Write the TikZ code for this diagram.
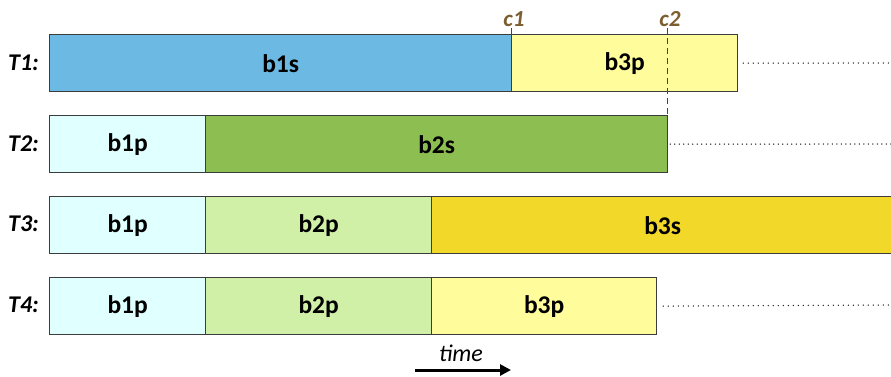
\documentclass[tikz,border=0pt]{standalone}
\usepackage{fontspec}
\setmainfont{Carlito}
\usetikzlibrary{arrows.meta}
\definecolor{bluefill}{RGB}{108,185,228}
\definecolor{paleyellow}{RGB}{255,253,155}
\definecolor{palecyan}{RGB}{224,255,255}
\definecolor{darkgreen}{RGB}{141,190,82}
\definecolor{palegreen}{RGB}{208,240,168}
\definecolor{gold}{RGB}{242,216,40}
\definecolor{brownlab}{RGB}{124,94,48}
\definecolor{edge}{RGB}{60,60,60}
\tikzset{
  blk/.style={draw=edge, line width=1.3pt, anchor=north west, minimum height=57pt,
    inner sep=0pt, font=\fontsize{25.5}{30}\selectfont\bfseries},
  rowlab/.style={anchor=east, inner sep=0pt, font=\fontsize{24}{28}\selectfont\bfseries\itshape},
  cklab/.style={inner sep=0pt, text=brownlab, font=\fontsize{23}{27}\selectfont\bfseries\itshape},
  cont/.style={line width=1.5pt, draw=black!85, line cap=round, dash pattern=on 0pt off 5pt},
}
\begin{document}
\begin{tikzpicture}[x=1pt,y=-1pt]
\useasboundingbox (0,0) rectangle (891,376);
% task rows
\node[rowlab] (l1) at (39,63) {T1:};
\node[rowlab] (l2) at (39,144) {T2:};
\node[rowlab] (l3) at (39,224) {T3:};
\node[rowlab] (l4) at (39,305) {T4:};
% T1
\node[blk, fill=bluefill, minimum width=462pt] (t1a) at (49,34) {b1s};
\node[blk, fill=paleyellow, minimum width=226pt] (t1b) at (511,34) {b3p};
% T2
\node[blk, fill=palecyan, minimum width=156pt] (t2a) at (49,115) {b1p};
\node[blk, fill=darkgreen, minimum width=462pt] (t2b) at (205,115) {b2s};
% T3
\node[blk, fill=palecyan, minimum width=156pt] (t3a) at (49,196) {b1p};
\node[blk, fill=palegreen, minimum width=226pt] (t3b) at (205,196) {b2p};
\node[blk, fill=gold, minimum width=462pt] (t3c) at (431,196) {b3s};
% T4
\node[blk, fill=palecyan, minimum width=156pt] (t4a) at (49,277) {b1p};
\node[blk, fill=palegreen, minimum width=226pt] (t4b) at (205,277) {b2p};
\node[blk, fill=paleyellow, minimum width=225pt] (t4c) at (431,277) {b3p};
% continuation lines
\coordinate (e1) at (891,63);
\coordinate (e2) at (891,144);
\coordinate (e4) at (891,305);
\draw[cont, shorten <=5pt] (t1b.east) -- (e1);
\draw[cont, shorten <=2pt, dash pattern=on 0pt off 4.5pt] (t2b.east) -- (e2);
\draw[cont, shorten <=6pt] (t4c.east) -- (e4);
% checkpoints
\node[cklab, anchor=base] (c1) at (514,26) {c1};
\node[cklab, anchor=base] (c2) at (670,26) {c2};
\coordinate (c1b) at (511,34);
\coordinate (c2b) at (667,115);
\draw[brownlab!70!black, line width=0.6pt] (511,28) -- (c1b);
\draw[brownlab!70!black, line width=0.6pt, dash pattern=on 6pt off 4pt] (667,28) -- (c2b);
% time arrow
\node[inner sep=0pt, anchor=base, font=\fontsize{24}{28}\selectfont\itshape] (tm) at (461,361) {time};
\coordinate (ta) at (415,370);
\coordinate (tb) at (511,370);
\draw[line width=3pt, -{Triangle[length=11pt,width=11pt]}] (ta) -- (tb);
\end{tikzpicture}
\end{document}
